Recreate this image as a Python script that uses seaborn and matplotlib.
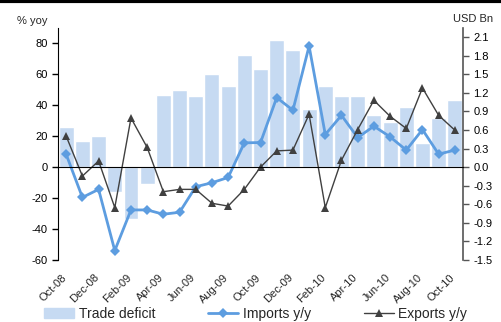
import numpy as np
import pandas as pd
import matplotlib
matplotlib.use("Agg")
import matplotlib.pyplot as plt
import matplotlib.transforms as mtransforms
from matplotlib.lines import Line2D
import seaborn as sns

# Monthly data, Oct-08 .. Oct-10
months = ["Oct-08", "Nov-08", "Dec-08", "Jan-09", "Feb-09", "Mar-09", "Apr-09",
          "May-09", "Jun-09", "Jul-09", "Aug-09", "Sep-09", "Oct-09", "Nov-09",
          "Dec-09", "Jan-10", "Feb-10", "Mar-10", "Apr-10", "May-10", "Jun-10",
          "Jul-10", "Aug-10", "Sep-10", "Oct-10"]
# trade deficit, USD Bn (right axis)
trade_deficit = [0.65, 0.42, 0.50, -0.40, -0.84, -0.27, 1.16, 1.24, 1.15, 1.50,
                 1.32, 1.82, 1.58, 2.06, 1.90, 0.94, 1.32, 1.15, 1.15, 0.85,
                 0.73, 0.97, 0.39, 0.79, 1.08]
# % yoy (left axis)
imports_yoy = [8.2, -19.6, -14.4, -54.0, -27.7, -27.7, -30.5, -29.2, -12.7, -10.1,
               -6.7, 15.7, 15.9, 45.0, 36.8, 78.3, 21.1, 33.5, 19.1, 26.5,
               19.6, 11.0, 24.3, 8.4, 11.0]
exports_yoy = [20.0, -5.8, 4.0, -26.2, 31.8, 12.7, -15.9, -14.4, -14.4, -23.4,
               -25.2, -14.4, 0.0, 10.5, 11.0, 34.2, -26.2, 4.5, 24.3, 43.2,
               32.9, 25.0, 51.2, 33.5, 23.9]

df = pd.DataFrame({"month": months, "pos": np.arange(len(months)),
                   "deficit": trade_deficit, "imports": imports_yoy,
                   "exports": exports_yoy})

sns.set_style("white")
plt.rcParams["font.family"] = ["Liberation Sans", "DejaVu Sans"]
plt.rcParams["axes.unicode_minus"] = False

bar_col = "#c6daf2"
imp_col = "#5d9de0"
exp_col = "#404040"

fig = plt.figure(figsize=(5.01, 3.22), dpi=100)
ax_bar = fig.add_axes([0.116, 0.193, 0.808, 0.72])

sns.barplot(data=df, x="month", y="deficit", color=bar_col, width=0.92,
            saturation=1, ax=ax_bar, zorder=1)
ax_bar.set_xlabel("")
ax_bar.set_ylabel("")

ax = ax_bar.twinx()
sns.lineplot(data=df, x="pos", y="imports", color=imp_col, lw=2, marker="D",
             markersize=5, markeredgewidth=0, ax=ax)
sns.lineplot(data=df, x="pos", y="exports", color=exp_col, lw=1, marker="^",
             markersize=6, markeredgewidth=0, ax=ax)
ax.yaxis.tick_left()
ax.set_ylim(-60, 90)
ax.set_yticks(np.arange(-60, 81, 20))
ax.set_xlim(-0.5, len(months) - 0.5)
ax.set_xlabel("")
ax.set_ylabel("")

# right axis for the bars (twinx moved it left)
ax_bar.yaxis.tick_right()
ax_bar.set_ylim(-1.5, 2.25)
rticks = np.arange(-1.5, 2.11, 0.3)
ax_bar.set_yticks(rticks)
ax_bar.set_yticklabels([f"{v:.1f}" for v in rticks])

for a in (ax, ax_bar):
    for s in ("top", "bottom", "left", "right"):
        a.spines[s].set_visible(False)
    a.tick_params(labelsize=8, colors="black", length=4, width=1)

ax.spines["left"].set_visible(True)
ax.spines["left"].set_color("black")
ax_bar.spines["right"].set_visible(True)
ax_bar.spines["right"].set_color("#555555")
ax_bar.spines["right"].set_linewidth(1.2)
ax_bar.tick_params(axis="y", colors="#555555", labelcolor="black", length=4)

# x axis line at zero with ticks between categories
ax.spines["bottom"].set_visible(True)
ax.spines["bottom"].set_position(("data", 0))
ax.spines["bottom"].set_color("black")
ax.set_xticks(np.arange(1.5, len(months) - 0.5, 2))
ax.tick_params(axis="x", labelbottom=False, bottom=True, length=4)
ax_bar.tick_params(axis="x", bottom=False, labelbottom=False)

sec = ax.secondary_xaxis("bottom")
sec.spines["bottom"].set_visible(False)
sec.set_xticks(df["pos"][::2])
sec.set_xticklabels(df["month"][::2], rotation=45, ha="right",
                    rotation_mode="anchor")
sec.tick_params(length=0, labelsize=8, pad=9)
shift = mtransforms.ScaledTranslation(-5 / 100, 0, fig.dpi_scale_trans)
for lab in sec.get_xticklabels():
    lab.set_transform(lab.get_transform() + shift)

fig.text(0.034, 0.935, "% yoy", fontsize=8, ha="left", va="center")
fig.text(0.985, 0.94, "USD Bn", fontsize=8, ha="right", va="center")
fig.add_artist(Line2D([0, 1], [0.997, 0.997], transform=fig.transFigure,
                      color="black", lw=3))

handles = [plt.Rectangle((0, 0), 1, 1, color=bar_col),
           Line2D([], [], color=imp_col, lw=2, marker="D", markersize=5,
                  markeredgewidth=0),
           Line2D([], [], color=exp_col, lw=1, marker="^", markersize=6,
                  markeredgewidth=0)]
fig.legend(handles, ["Trade deficit", "Imports y/y", "Exports y/y"],
           loc="center", bbox_to_anchor=(0.51, 0.025), ncol=3, frameon=False,
           fontsize=10, handlelength=2.2, handletextpad=0.3,
           columnspacing=3.8, borderpad=0)

fig.savefig("out.png", dpi=100)
